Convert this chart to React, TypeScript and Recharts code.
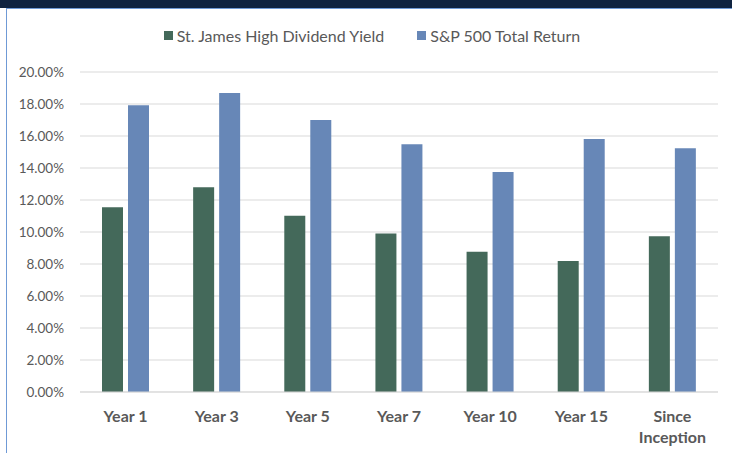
import React from "react";
import { BarChart, Bar, XAxis, YAxis, CartesianGrid } from "recharts";

const categories = ["Year 1", "Year 3", "Year 5", "Year 7", "Year 10", "Year 15", "Since Inception"];
const stJames = [0.1154, 0.1279, 0.1102, 0.099, 0.0877, 0.0819, 0.0973];
const sp500 = [0.1792, 0.1869, 0.17, 0.1548, 0.1375, 0.1581, 0.1523];
const yTicks = [0, 0.02, 0.04, 0.06, 0.08, 0.1, 0.12, 0.14, 0.16, 0.18, 0.2];
const seriesNames = ["St. James High Dividend Yield", "S&P 500 Total Return"];

const data = categories.map((c, i) => ({ name: c, a: stJames[i], b: sp500[i] }));

const GREEN = "#44695a";
const BLUE = "#6787b7";
const FONT = "Lato, 'Open Sans', sans-serif";

const XTick = (props: any) => {
  const { x, y, payload } = props;
  const words = String(payload.value).startsWith("Since") ? ["Since", "Inception"] : [payload.value];
  return (
    <g transform={`translate(${x},${y})`}>
      {words.map((w: string, i: number) => (
        <text key={i} x={0} y={0} dy={14 + i * 21} textAnchor="middle" fill="#595959" fontSize={16} fontWeight="bold" fontFamily={FONT}>
          {w}
        </text>
      ))}
    </g>
  );
};

export default function App() {
  return (
    <div style={{ position: "absolute", left: 0, top: 0, width: 732, height: 453, background: "#fff", overflow: "hidden" }}>
      <div style={{ position: "absolute", left: 0, top: 0, width: 732, height: 8, background: "#0f2340" }} />
      <div style={{ position: "absolute", left: 6, top: 8, width: 726, height: 1, background: "#6f9ad6" }} />
      <div style={{ position: "absolute", left: 6, top: 8, width: 1, height: 445, background: "#6f9ad6" }} />
      <div
        style={{
          position: "absolute",
          left: 0,
          top: 25,
          width: 732,
          height: 20,
          display: "flex",
          justifyContent: "center",
          alignItems: "center",
          fontFamily: FONT,
          fontSize: 16,
          color: "#595959",
          paddingLeft: 12,
          boxSizing: "border-box",
        }}
      >
        <span style={{ display: "inline-block", width: 9, height: 9, background: GREEN, marginRight: 4 }} />
        <span style={{ marginRight: 33 }}>{seriesNames[0]}</span>
        <span style={{ display: "inline-block", width: 9, height: 9, background: BLUE, marginRight: 4 }} />
        <span>{seriesNames[1]}</span>
      </div>
      <div style={{ position: "absolute", left: 0, top: 0 }}>
        <BarChart width={732} height={453} data={data} margin={{ top: 72, right: 14, bottom: 31, left: 0 }} barSize={21} barGap={5}>
          <CartesianGrid vertical={false} stroke="#d9d9d9" />
          <XAxis dataKey="name" height={30} tick={<XTick />} tickLine={false} axisLine={{ stroke: "#d9d9d9" }} interval={0} tickMargin={10} />
          <YAxis
            width={80}
            domain={[0, 0.2]}
            ticks={yTicks}
            tickFormatter={(v: number) => (v * 100).toFixed(2) + "%"}
            tickLine={false}
            axisLine={false}
            tickMargin={10}
            tick={{ fill: "#595959", fontSize: 13.5, fontFamily: FONT }}
          />
          <Bar dataKey="a" name={seriesNames[0]} fill={GREEN} isAnimationActive={false} />
          <Bar dataKey="b" name={seriesNames[1]} fill={BLUE} isAnimationActive={false} />
        </BarChart>
      </div>
    </div>
  );
}
